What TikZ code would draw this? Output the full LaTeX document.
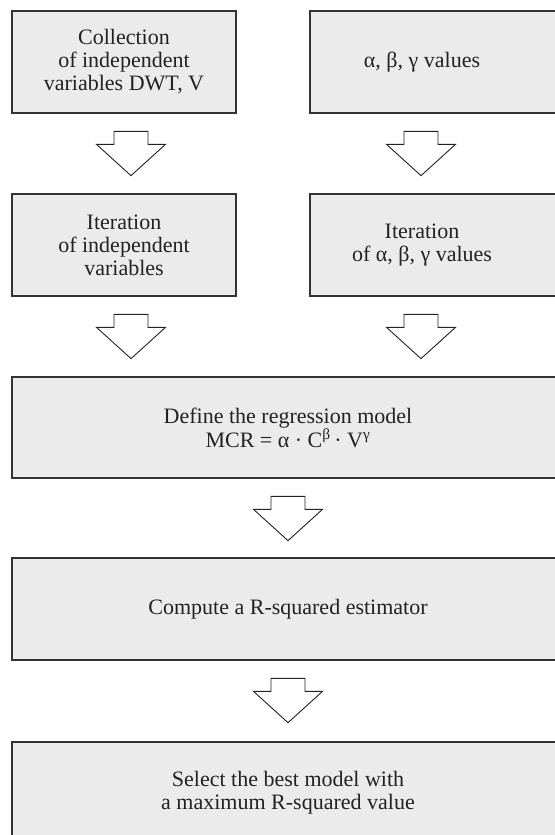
\documentclass[tikz,border=0pt]{standalone}
\usepackage{fontspec}
\setmainfont{Liberation Serif}
\usetikzlibrary{calc}
\definecolor{boxfill}{HTML}{EBEBEB}
\definecolor{boxline}{HTML}{333333}
\definecolor{arrowline}{HTML}{222222}
\definecolor{txt}{HTML}{222222}
\begin{document}
\begin{tikzpicture}[x=1pt,y=-1pt,
  box/.style={draw=boxline, fill=boxfill, line width=1.3pt, minimum height=102pt, inner sep=0pt},
  lbl/.style={align=center, font=\fontsize{22}{23}\selectfont, text=txt, inner sep=0pt},
  barrow/.pic={\draw[draw=arrowline, fill=white, line width=0.9pt, line join=miter]
     (-17,0)--(17,0)--(17,13)--(34.5,13)--(0,44.3)--(-34.5,13)--(-17,13)--cycle;}
]
\useasboundingbox (0,0) rectangle (554,835);
% boxes
\node[box, minimum width=224pt] (b1) at (124,62) {};
\node[box, minimum width=250pt] (b2) at (435,62) {};
\node[box, minimum width=224pt] (b3) at (124,245) {};
\node[box, minimum width=250pt] (b4) at (435,245) {};
\node[box, minimum width=550pt, minimum height=101pt] (b5) at (287,427.5) {};
\node[box, minimum width=550pt] (b6) at (287,609) {};
\node[box, minimum width=550pt] (b7) at (287,793) {};
% texts
\node[lbl] (t1) at (124,62) {Collection\\of independent\\variables DWT, V};
\node[lbl] (t2) at (422,62) {α, β, γ values};
\node[lbl] (t3) at (124,245) {Iteration\\of independent\\variables};
\node[lbl] (t4) at (422,245) {Iteration\\of α, β, γ values};
\node[lbl] (t5) at (288,427.5) {Define the regression model\\MCR = α · C\textsuperscript{β}\,· V\textsuperscript{γ}};
\node[lbl] (t6) at (288,609) {Compute a R-squared estimator};
\node[lbl] (t7) at (288,793) {Select the best model with\\a maximum R-squared value};
% block arrows
\pic at ($(t1.center |- b1.south)+(7,17.7)$) {barrow};
\pic at ($(t2.center |- b2.south)+(-1,17.7)$) {barrow};
\pic at ($(t3.center |- b3.south)+(7,17.7)$) {barrow};
\pic at ($(t4.center |- b4.south)+(-1,17.7)$) {barrow};
\pic at ($(t5.center |- b5.south)+(0,17.7)$) {barrow};
\pic at ($(t6.center |- b6.south)+(0,17.7)$) {barrow};
\end{tikzpicture}
\end{document}
